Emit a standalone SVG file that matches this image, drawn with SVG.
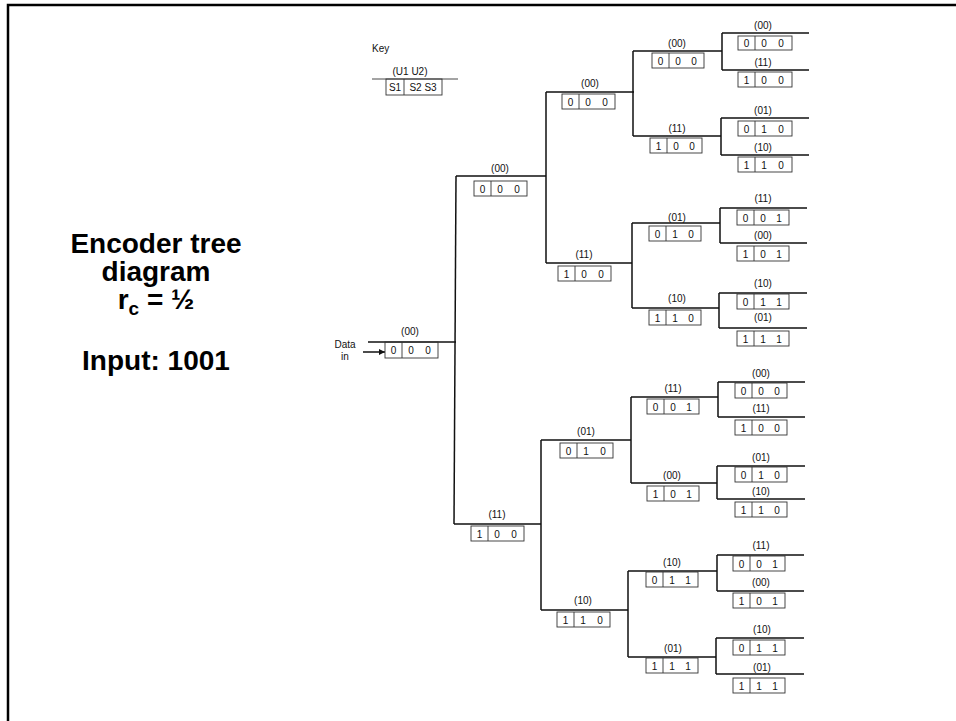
<svg xmlns="http://www.w3.org/2000/svg" width="956" height="721" viewBox="0 0 956 721">
<defs>
<style>
.bg{fill:#fff}
.frame{fill:none;stroke:#000;stroke-width:2.5}
.cn{fill:none;stroke:#111;stroke-width:1.5}
.bx{fill:none;stroke:#333;stroke-width:0.9}
.lb{font-family:"Liberation Sans",Arial,sans-serif;font-size:10px;fill:#111;text-anchor:middle}
.dg{font-family:"Liberation Sans",Arial,sans-serif;font-size:10px;fill:#111;text-anchor:middle}
.ky{font-family:"Liberation Sans",Arial,sans-serif;font-size:10px;fill:#111}
.tt{font-family:"Liberation Sans",Arial,sans-serif;font-size:28px;font-weight:bold;fill:#000;text-anchor:middle}
</style>
<marker id="ah" viewBox="0 0 10 10" refX="10" refY="5" markerWidth="8" markerHeight="6" orient="auto" markerUnits="userSpaceOnUse">
<path d="M0,0 L10,5 L0,10 z" fill="#111"/>
</marker>
</defs>
<rect class="bg" x="0" y="0" width="956" height="721"/>
<path class="frame" d="M8,721 V5 H956"/>

<g id="title">
<text class="tt" x="156" y="253">Encoder tree</text>
<text class="tt" x="156" y="281">diagram</text>
<text class="tt" x="156" y="309">r<tspan font-size="19" dy="6">c</tspan><tspan dy="-6"> = ½</tspan></text>
<text class="tt" x="156" y="370">Input: 1001</text>
</g>

<g id="key">
<text class="ky" x="372" y="52">Key</text>
<text class="lb" x="410" y="75">(U1 U2)</text>
<line class="bx" x1="372" y1="79" x2="458" y2="79"/>
<rect class="bx" x="386" y="79" width="56" height="16"/>
<line class="bx" x1="404" y1="79" x2="404" y2="95"/>
<text class="dg" x="395" y="91">S1</text>
<text class="dg" x="423" y="91">S2 S3</text>
</g>

<g id="connectors">
<line class="cn" x1="363" y1="352" x2="385" y2="352" marker-end="url(#ah)"/>
<path class="cn" d="M368,342 H456"/>
<path class="cn" d="M456,176 L454,524"/>
<path class="cn" d="M456,176 H546 M454,524 H541"/>
<path class="cn" d="M546,92 V263 M546,92 H634 M546,263 H632"/>
<path class="cn" d="M541,440 V610 M541,440 H631 M541,610 H628"/>
<path class="cn" d="M633,51 V136 M633,51 H722 M633,136 H721"/>
<path class="cn" d="M632,223 V308 M632,223 H720 M632,308 H719"/>
<path class="cn" d="M631,397 V483 M631,397 H718 M631,483 H717"/>
<path class="cn" d="M628,571 V657 M628,571 H717 M628,657 H716"/>
<path class="cn" d="M722,33 V70 M722,33 H809 M722,70 H809"/>
<path class="cn" d="M721,118 V155 M721,118 H809 M721,155 H809"/>
<path class="cn" d="M720,208 V243 M720,208 H807 M720,243 H807"/>
<path class="cn" d="M719,293 V328 M719,293 H807 M719,328 H807"/>
<path class="cn" d="M718,382 V417 M718,382 H805 M718,417 H805"/>
<path class="cn" d="M717,466 V499 M717,466 H805 M717,499 H805"/>
<path class="cn" d="M717,555 V591 M717,555 H804 M717,591 H804"/>
<path class="cn" d="M716,638 V674 M716,638 H804 M716,674 H804"/>
</g>

<g id="data-in">
<text class="lb" x="345" y="348">Data</text>
<text class="lb" x="345" y="360">in</text>
</g>

<g id="root">
<text class="lb" x="410" y="335">(00)</text>
<g transform="translate(385,342)"><rect class="bx" width="53" height="16"/><line class="bx" x1="17" y1="0" x2="17" y2="16"/><text class="dg" x="8.5" y="12">0</text><text class="dg" x="26" y="12">0</text><text class="dg" x="43" y="12">0</text></g>
</g>

<g id="n0">
<text class="lb" x="500" y="172">(00)</text>
<g transform="translate(474,181)"><rect class="bx" width="53" height="15"/><line class="bx" x1="17" y1="0" x2="17" y2="15"/><text class="dg" x="8.5" y="11.5">0</text><text class="dg" x="26" y="11.5">0</text><text class="dg" x="43" y="11.5">0</text></g>
</g>
<g id="n1">
<text class="lb" x="497" y="518">(11)</text>
<g transform="translate(471,526)"><rect class="bx" width="53" height="15"/><line class="bx" x1="17" y1="0" x2="17" y2="15"/><text class="dg" x="8.5" y="11.5">1</text><text class="dg" x="26" y="11.5">0</text><text class="dg" x="43" y="11.5">0</text></g>
</g>

<g id="n00">
<text class="lb" x="590" y="87">(00)</text>
<g transform="translate(562,94)"><rect class="bx" width="53" height="15"/><line class="bx" x1="17" y1="0" x2="17" y2="15"/><text class="dg" x="8.5" y="11.5">0</text><text class="dg" x="26" y="11.5">0</text><text class="dg" x="43" y="11.5">0</text></g>
</g>
<g id="n01">
<text class="lb" x="584" y="258">(11)</text>
<g transform="translate(558,266)"><rect class="bx" width="53" height="15"/><line class="bx" x1="17" y1="0" x2="17" y2="15"/><text class="dg" x="8.5" y="11.5">1</text><text class="dg" x="26" y="11.5">0</text><text class="dg" x="43" y="11.5">0</text></g>
</g>
<g id="n10">
<text class="lb" x="586" y="435">(01)</text>
<g transform="translate(560,443)"><rect class="bx" width="53" height="15"/><line class="bx" x1="17" y1="0" x2="17" y2="15"/><text class="dg" x="8.5" y="11.5">0</text><text class="dg" x="26" y="11.5">1</text><text class="dg" x="43" y="11.5">0</text></g>
</g>
<g id="n11">
<text class="lb" x="583" y="604">(10)</text>
<g transform="translate(557,612)"><rect class="bx" width="53" height="15"/><line class="bx" x1="17" y1="0" x2="17" y2="15"/><text class="dg" x="8.5" y="11.5">1</text><text class="dg" x="26" y="11.5">1</text><text class="dg" x="43" y="11.5">0</text></g>
</g>

<g id="n000">
<text class="lb" x="677" y="47">(00)</text>
<g transform="translate(652,53)"><rect class="bx" width="52" height="15"/><line class="bx" x1="17" y1="0" x2="17" y2="15"/><text class="dg" x="8.5" y="11.5">0</text><text class="dg" x="26" y="11.5">0</text><text class="dg" x="42" y="11.5">0</text></g>
</g>
<g id="n001">
<text class="lb" x="677" y="132">(11)</text>
<g transform="translate(650,138)"><rect class="bx" width="52" height="15"/><line class="bx" x1="17" y1="0" x2="17" y2="15"/><text class="dg" x="8.5" y="11.5">1</text><text class="dg" x="26" y="11.5">0</text><text class="dg" x="42" y="11.5">0</text></g>
</g>
<g id="n010">
<text class="lb" x="677" y="221">(01)</text>
<g transform="translate(649,226)"><rect class="bx" width="52" height="15"/><line class="bx" x1="17" y1="0" x2="17" y2="15"/><text class="dg" x="8.5" y="11.5">0</text><text class="dg" x="26" y="11.5">1</text><text class="dg" x="42" y="11.5">0</text></g>
</g>
<g id="n011">
<text class="lb" x="677" y="302">(10)</text>
<g transform="translate(649,310)"><rect class="bx" width="52" height="15"/><line class="bx" x1="17" y1="0" x2="17" y2="15"/><text class="dg" x="8.5" y="11.5">1</text><text class="dg" x="26" y="11.5">1</text><text class="dg" x="42" y="11.5">0</text></g>
</g>
<g id="n100">
<text class="lb" x="673" y="392">(11)</text>
<g transform="translate(647,399)"><rect class="bx" width="52" height="15"/><line class="bx" x1="17" y1="0" x2="17" y2="15"/><text class="dg" x="8.5" y="11.5">0</text><text class="dg" x="26" y="11.5">0</text><text class="dg" x="42" y="11.5">1</text></g>
</g>
<g id="n101">
<text class="lb" x="672" y="479">(00)</text>
<g transform="translate(647,486)"><rect class="bx" width="52" height="15"/><line class="bx" x1="17" y1="0" x2="17" y2="15"/><text class="dg" x="8.5" y="11.5">1</text><text class="dg" x="26" y="11.5">0</text><text class="dg" x="42" y="11.5">1</text></g>
</g>
<g id="n110">
<text class="lb" x="672" y="566">(10)</text>
<g transform="translate(646,572)"><rect class="bx" width="52" height="15"/><line class="bx" x1="17" y1="0" x2="17" y2="15"/><text class="dg" x="8.5" y="11.5">0</text><text class="dg" x="26" y="11.5">1</text><text class="dg" x="42" y="11.5">1</text></g>
</g>
<g id="n111">
<text class="lb" x="673" y="652">(01)</text>
<g transform="translate(646,658)"><rect class="bx" width="52" height="15"/><line class="bx" x1="17" y1="0" x2="17" y2="15"/><text class="dg" x="8.5" y="11.5">1</text><text class="dg" x="26" y="11.5">1</text><text class="dg" x="42" y="11.5">1</text></g>
</g>

<g id="n0000">
<text class="lb" x="763" y="29">(00)</text>
<g transform="translate(738,36)"><rect class="bx" width="54" height="14"/><line class="bx" x1="17" y1="0" x2="17" y2="14"/><text class="dg" x="8.5" y="11">0</text><text class="dg" x="26" y="11">0</text><text class="dg" x="43" y="11">0</text></g>
</g>
<g id="n0001">
<text class="lb" x="763" y="66">(11)</text>
<g transform="translate(738,72)"><rect class="bx" width="54" height="15"/><line class="bx" x1="17" y1="0" x2="17" y2="15"/><text class="dg" x="8.5" y="11.5">1</text><text class="dg" x="26" y="11.5">0</text><text class="dg" x="43" y="11.5">0</text></g>
</g>
<g id="n0010">
<text class="lb" x="763" y="114">(01)</text>
<g transform="translate(738,121)"><rect class="bx" width="54" height="15"/><line class="bx" x1="17" y1="0" x2="17" y2="15"/><text class="dg" x="8.5" y="11.5">0</text><text class="dg" x="26" y="11.5">1</text><text class="dg" x="43" y="11.5">0</text></g>
</g>
<g id="n0011">
<text class="lb" x="763" y="151">(10)</text>
<g transform="translate(738,157)"><rect class="bx" width="54" height="15"/><line class="bx" x1="17" y1="0" x2="17" y2="15"/><text class="dg" x="8.5" y="11.5">1</text><text class="dg" x="26" y="11.5">1</text><text class="dg" x="43" y="11.5">0</text></g>
</g>
<g id="n0100">
<text class="lb" x="763" y="202">(11)</text>
<g transform="translate(737,210)"><rect class="bx" width="52" height="15"/><line class="bx" x1="17" y1="0" x2="17" y2="15"/><text class="dg" x="8.5" y="11.5">0</text><text class="dg" x="26" y="11.5">0</text><text class="dg" x="42" y="11.5">1</text></g>
</g>
<g id="n0101">
<text class="lb" x="763" y="239">(00)</text>
<g transform="translate(737,246)"><rect class="bx" width="52" height="15"/><line class="bx" x1="17" y1="0" x2="17" y2="15"/><text class="dg" x="8.5" y="11.5">1</text><text class="dg" x="26" y="11.5">0</text><text class="dg" x="42" y="11.5">1</text></g>
</g>
<g id="n0110">
<text class="lb" x="763" y="287">(10)</text>
<g transform="translate(737,294)"><rect class="bx" width="52" height="15"/><line class="bx" x1="17" y1="0" x2="17" y2="15"/><text class="dg" x="8.5" y="11.5">0</text><text class="dg" x="26" y="11.5">1</text><text class="dg" x="42" y="11.5">1</text></g>
</g>
<g id="n0111">
<text class="lb" x="763" y="321">(01)</text>
<g transform="translate(737,331)"><rect class="bx" width="52" height="15"/><line class="bx" x1="17" y1="0" x2="17" y2="15"/><text class="dg" x="8.5" y="11.5">1</text><text class="dg" x="26" y="11.5">1</text><text class="dg" x="42" y="11.5">1</text></g>
</g>
<g id="n1000">
<text class="lb" x="761" y="377">(00)</text>
<g transform="translate(735,383)"><rect class="bx" width="52" height="15"/><line class="bx" x1="17" y1="0" x2="17" y2="15"/><text class="dg" x="8.5" y="11.5">0</text><text class="dg" x="26" y="11.5">0</text><text class="dg" x="42" y="11.5">0</text></g>
</g>
<g id="n1001">
<text class="lb" x="761" y="412">(11)</text>
<g transform="translate(735,420)"><rect class="bx" width="52" height="15"/><line class="bx" x1="17" y1="0" x2="17" y2="15"/><text class="dg" x="8.5" y="11.5">1</text><text class="dg" x="26" y="11.5">0</text><text class="dg" x="42" y="11.5">0</text></g>
</g>
<g id="n1010">
<text class="lb" x="761" y="461">(01)</text>
<g transform="translate(735,467)"><rect class="bx" width="52" height="15"/><line class="bx" x1="17" y1="0" x2="17" y2="15"/><text class="dg" x="8.5" y="11.5">0</text><text class="dg" x="26" y="11.5">1</text><text class="dg" x="42" y="11.5">0</text></g>
</g>
<g id="n1011">
<text class="lb" x="761" y="495">(10)</text>
<g transform="translate(735,502)"><rect class="bx" width="52" height="15"/><line class="bx" x1="17" y1="0" x2="17" y2="15"/><text class="dg" x="8.5" y="11.5">1</text><text class="dg" x="26" y="11.5">1</text><text class="dg" x="42" y="11.5">0</text></g>
</g>
<g id="n1100">
<text class="lb" x="761" y="549">(11)</text>
<g transform="translate(733,556)"><rect class="bx" width="52" height="15"/><line class="bx" x1="17" y1="0" x2="17" y2="15"/><text class="dg" x="8.5" y="11.5">0</text><text class="dg" x="26" y="11.5">0</text><text class="dg" x="42" y="11.5">1</text></g>
</g>
<g id="n1101">
<text class="lb" x="761" y="586">(00)</text>
<g transform="translate(733,593)"><rect class="bx" width="52" height="15"/><line class="bx" x1="17" y1="0" x2="17" y2="15"/><text class="dg" x="8.5" y="11.5">1</text><text class="dg" x="26" y="11.5">0</text><text class="dg" x="42" y="11.5">1</text></g>
</g>
<g id="n1110">
<text class="lb" x="762" y="633">(10)</text>
<g transform="translate(733,640)"><rect class="bx" width="52" height="15"/><line class="bx" x1="17" y1="0" x2="17" y2="15"/><text class="dg" x="8.5" y="11.5">0</text><text class="dg" x="26" y="11.5">1</text><text class="dg" x="42" y="11.5">1</text></g>
</g>
<g id="n1111">
<text class="lb" x="762" y="671">(01)</text>
<g transform="translate(733,678)"><rect class="bx" width="52" height="15"/><line class="bx" x1="17" y1="0" x2="17" y2="15"/><text class="dg" x="8.5" y="11.5">1</text><text class="dg" x="26" y="11.5">1</text><text class="dg" x="42" y="11.5">1</text></g>
</g>
</svg>
